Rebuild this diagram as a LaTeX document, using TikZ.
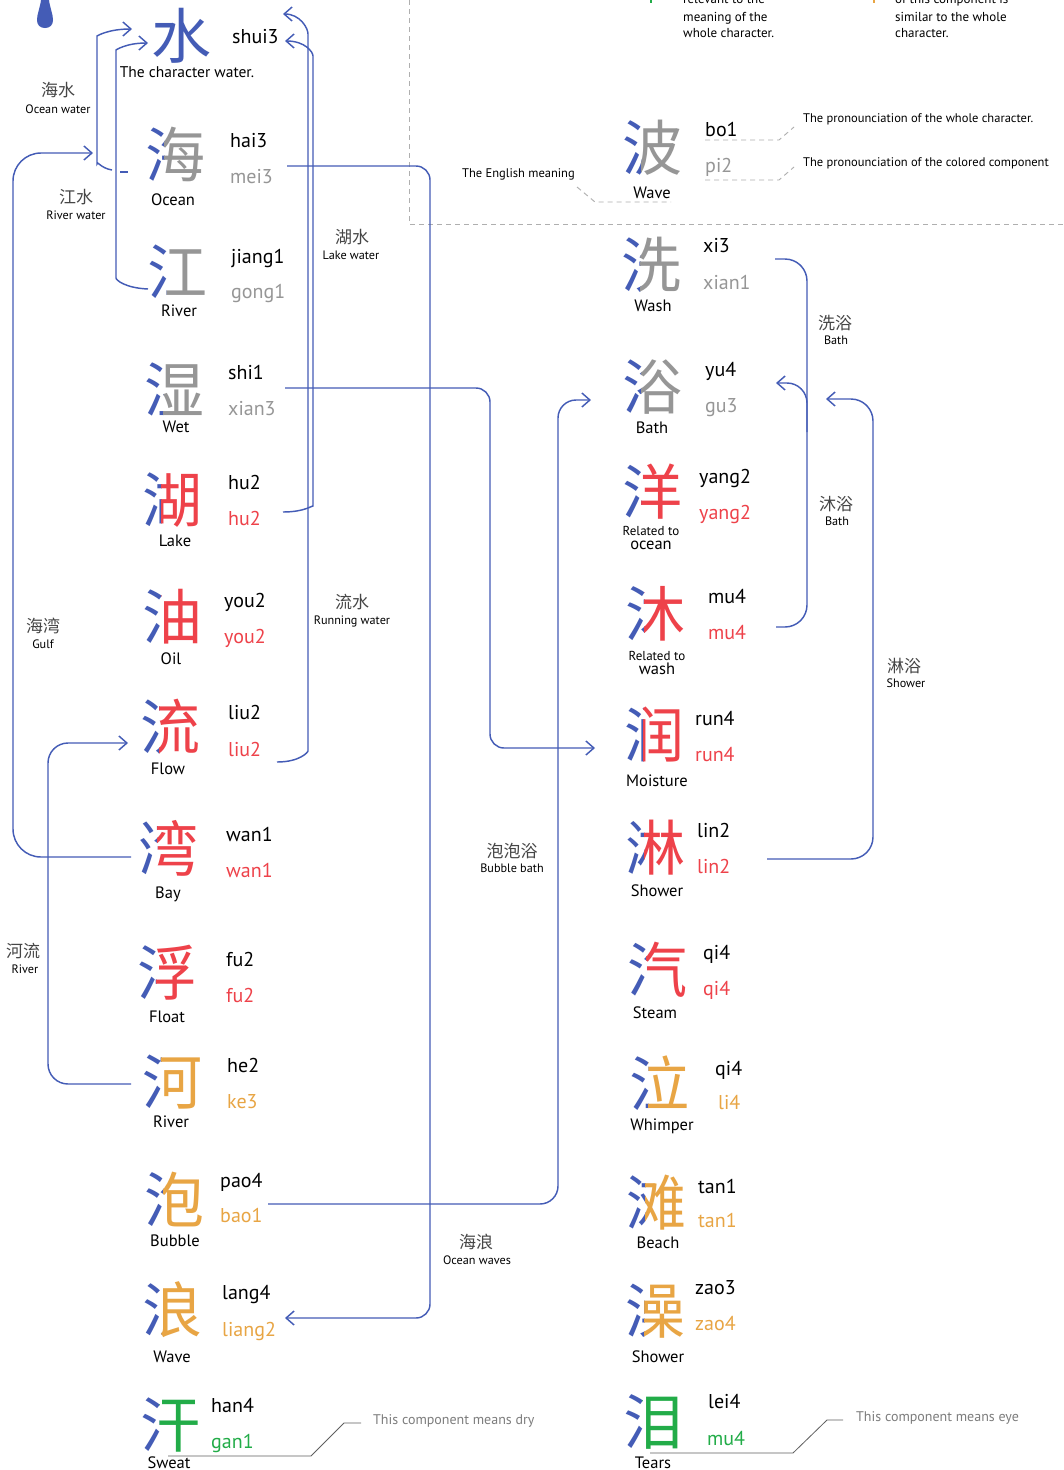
\documentclass[tikz,border=0pt]{standalone}
\usepackage{fontspec}
\setmainfont{PT Sans}
\newfontfamily\cjk{Noto Sans CJK SC}
\usetikzlibrary{arrows.meta}
\definecolor{wblue}{RGB}{68,92,182}
\definecolor{wred}{RGB}{238,66,74}
\definecolor{worange}{RGB}{232,165,68}
\definecolor{wgreen}{RGB}{34,172,72}
\definecolor{wgray}{RGB}{150,150,150}
\definecolor{zhgray}{RGB}{70,70,70}
\definecolor{dashgray}{RGB}{175,175,175}
\definecolor{notegray}{RGB}{125,125,125}
\definecolor{linegray}{RGB}{95,95,95}
\newcommand\hzc[5]{%
  \begin{scope}\clip (#2-45,#3-45) rectangle (#2-11,#3+45);
  \node[glyph,text=wblue] (#1L) at (#2,#3) {#4};\end{scope}
  \begin{scope}\clip (#2-11,#3-45) rectangle (#2+45,#3+45);
  \node[glyph,text=#5] (#1) at (#2,#3) {#4};\end{scope}}
\begin{document}
\begin{tikzpicture}[x=1pt,y=-1pt,
  glyph/.style={inner sep=0pt, font=\cjk\fontsize{60}{60}\selectfont},
  py/.style={anchor=base west, inner sep=0pt, font=\fontsize{20}{24}\selectfont},
  mean/.style={anchor=base, inner sep=0pt, font=\fontsize{16.5}{20}\selectfont},
  rel/.style={anchor=base, inner sep=0pt, font=\fontsize{13}{15}\selectfont},
  lzh/.style={inner sep=0pt, text=zhgray, font=\cjk\fontsize{17}{20}\selectfont},
  len/.style={inner sep=0pt, font=\fontsize{12.2}{14}\selectfont},
  conn/.style={draw=wblue, line width=1.45pt, rounded corners=16pt},
  tip/.style={-{Straight Barb[length=8pt,width=14pt]}},
  legdash/.style={draw=dashgray, line width=0.9pt, dash pattern=on 5pt off 4pt},
  note/.style={anchor=west, inner sep=0pt, text=notegray, font=\fontsize{14}{16}\selectfont},
  noteline/.style={draw=linegray, line width=0.8pt},
  legtxt/.style={anchor=base west, inner sep=0pt, font=\fontsize{13}{15}\selectfont},
  small/.style={anchor=west, inner sep=0pt, font=\fontsize{12.5}{14}\selectfont}
  ]
\useasboundingbox[fill=white] (0,0) rectangle (1064,1470);

% drop
\fill[wblue] (41,0) .. controls (40,8) and (37,14) .. (37,20) .. controls (37,25) and (40,28) .. (45,28) .. controls (50,28) and (53,25) .. (53,20) .. controls (53,14) and (50,8) .. (49,0) -- cycle;

% legend box
\draw[legdash] (409,0) -- (409,224) -- (1064,224);
\fill[wgreen] (649.5,0) rectangle (652,3);
\fill[worange] (872.5,0) rectangle (875,3);
\node[legtxt] (t1) at (683,3) {relevant to the};
\node[legtxt] (t2) at (683,21) {meaning of the};
\node[legtxt] (t3) at (683,37) {whole character.};
\node[legtxt] (t4) at (895,3) {of this component is};
\node[legtxt] (t5) at (895,21) {similar to the whole};
\node[legtxt] (t6) at (895,37) {character.};

\hzc{bo}{652}{148}{波}{wgray}
\node[py] (bo-a) at (705,136) {bo1};
\node[py,text=wgray] (bo-b) at (705,172) {pi2};
\node[mean] (bo-m) at (652,198) {Wave};
\draw[legdash] (705,140) -- (779,140) -- (794,127);
\draw[legdash] (705,180) -- (779,180) -- (794,167);
\draw[legdash] (577,187) -- (595,202) -- (671,202);
\node[small] (lg1) at (803,119) {The pronounciation of the whole character.};
\node[small] (lg2) at (803,163) {The pronounciation of the colored component};
\node[small] (lg3) at (462,174) {The English meaning};

% left column
\node[glyph,text=wblue] (shui) at (181,36) {水};
\node[py] (shui-a) at (232,43) {shui3};
\node[anchor=base,inner sep=0pt,font=\fontsize{15.5}{18}\selectfont] (shui-m) at (187,77) {The character water.};

\hzc{hai}{175}{154}{海}{wgray}
\node[py] (hai-a) at (230,147) {hai3};
\node[py,text=wgray] (hai-b) at (230,183) {mei3};
\node[mean] (hai-m) at (173,205) {Ocean};

\hzc{jiang}{177}{272}{江}{wgray}
\node[py] (jiang-a) at (231,263) {jiang1};
\node[py,text=wgray] (jiang-b) at (231,298) {gong1};
\node[mean] (jiang-m) at (179,316) {River};

\hzc{shi}{174}{389}{湿}{wgray}
\node[py] (shi-a) at (228,379) {shi1};
\node[py,text=wgray] (shi-b) at (228,415) {xian3};
\node[mean] (shi-m) at (176,432) {Wet};

\hzc{hu}{172}{500}{湖}{wred}
\node[py] (hu-a) at (228,489) {hu2};
\node[py,text=wred] (hu-b) at (228,525) {hu2};
\node[mean] (hu-m) at (175,546) {Lake};

\hzc{you}{172}{617}{油}{wred}
\node[py] (you-a) at (224,607) {you2};
\node[py,text=wred] (you-b) at (224,643) {you2};
\node[mean] (you-m) at (171,664) {Oil};

\hzc{liu}{170}{727}{流}{wred}
\node[py] (liu-a) at (228,719) {liu2};
\node[py,text=wred] (liu-b) at (228,756) {liu2};
\node[mean] (liu-m) at (168,774) {Flow};

\hzc{wan}{168}{848}{湾}{wred}
\node[py] (wan-a) at (226,841) {wan1};
\node[py,text=wred] (wan-b) at (226,877) {wan1};
\node[mean] (wan-m) at (168,898) {Bay};

\hzc{fu}{167}{973}{浮}{wred}
\node[py] (fu-a) at (226,966) {fu2};
\node[py,text=wred] (fu-b) at (226,1002) {fu2};
\node[mean] (fu-m) at (167,1022) {Float};

\hzc{he}{172}{1082}{河}{worange}
\node[py] (he-a) at (227,1072) {he2};
\node[py,text=worange] (he-b) at (227,1108) {ke3};
\node[mean] (he-m) at (171,1127) {River};

\hzc{pao}{174}{1199}{泡}{worange}
\node[py] (pao-a) at (220,1187) {pao4};
\node[py,text=worange] (pao-b) at (220,1222) {bao1};
\node[mean] (pao-m) at (175,1246) {Bubble};

\hzc{lang}{172}{1310}{浪}{worange}
\node[py] (lang-a) at (222,1299) {lang4};
\node[py,text=worange] (lang-b) at (222,1336) {liang2};
\node[mean] (lang-m) at (172,1362) {Wave};

\hzc{han}{170}{1425}{汗}{wgreen}
\node[py] (han-a) at (211,1412) {han4};
\node[py,text=wgreen] (han-b) at (211,1448) {gan1};
\node[mean] (han-m) at (169,1468) {Sweat};

% right column
\hzc{xi}{651}{265}{洗}{wgray}
\node[py] (xi-a) at (703,252) {xi3};
\node[py,text=wgray] (xi-b) at (703,289) {xian1};
\node[mean] (xi-m) at (653,311) {Wash};

\hzc{yu}{652}{387}{浴}{wgray}
\node[py] (yu-a) at (705,376) {yu4};
\node[py,text=wgray] (yu-b) at (705,412) {gu3};
\node[mean] (yu-m) at (652,433) {Bath};

\hzc{yang}{652}{492}{洋}{wred}
\node[py] (yang-a) at (699,483) {yang2};
\node[py,text=wred] (yang-b) at (699,519) {yang2};
\node[rel] (yang-r) at (651,535) {Related to};
\node[mean] (yang-m) at (651,549) {ocean};

\hzc{mu}{655}{614}{沐}{wred}
\node[py] (mu-a) at (708,603) {mu4};
\node[py,text=wred] (mu-b) at (708,639) {mu4};
\node[rel] (mu-r) at (657,660) {Related to};
\node[mean] (mu-m) at (657,674) {wash};

\hzc{run}{654}{735}{润}{wred}
\node[py] (run-a) at (695,725) {run4};
\node[py,text=wred] (run-b) at (695,761) {run4};
\node[mean] (run-m) at (657,786) {Moisture};

\hzc{lin}{655}{848}{淋}{wred}
\node[py] (lin-a) at (697,837) {lin2};
\node[py,text=wred] (lin-b) at (697,873) {lin2};
\node[mean] (lin-m) at (657,896) {Shower};

\hzc{qi}{657}{970}{汽}{wred}
\node[py] (qi-a) at (703,959) {qi4};
\node[py,text=wred] (qi-b) at (703,995) {qi4};
\node[mean] (qi-m) at (655,1018) {Steam};

\hzc{qii}{659}{1083}{泣}{worange}
\node[py] (qii-a) at (715,1075) {qi4};
\node[py,text=worange] (qii-b) at (718,1109) {li4};
\node[mean] (qii-m) at (662,1130) {Whimper};

\hzc{tan}{656}{1203}{滩}{worange}
\node[py] (tan-a) at (698,1193) {tan1};
\node[py,text=worange] (tan-b) at (698,1227) {tan1};
\node[mean] (tan-m) at (658,1248) {Beach};

\hzc{zao}{655}{1311}{澡}{worange}
\node[py] (zao-a) at (695,1294) {zao3};
\node[py,text=worange] (zao-b) at (695,1330) {zao4};
\node[mean] (zao-m) at (658,1362) {Shower};

\hzc{lei}{653}{1422}{泪}{wgreen}
\node[py] (lei-a) at (708,1408) {lei4};
\node[py,text=wgreen] (lei-b) at (707,1445) {mu4};
\node[mean] (lei-m) at (653,1468) {Tears};

% labels
\node[lzh] (z1) at (58,90) {海水};   \node[len] (e1) at (58,109) {Ocean water};
\node[lzh] (z2) at (76,197) {江水};  \node[len] (e2) at (76,215) {River water};
\node[lzh] (z3) at (352,237) {湖水}; \node[len] (e3) at (351,255) {Lake water};
\node[lzh] (z4) at (352,602) {流水}; \node[len] (e4) at (352,621) {Running water};
\node[lzh] (z5) at (43,626) {海湾};  \node[len] (e5) at (43,644) {Gulf};
\node[lzh] (z6) at (23,951) {河流};  \node[len] (e6) at (25,969) {River};
\node[lzh] (z7) at (512,851) {泡泡浴}; \node[len] (e7) at (512,868) {Bubble bath};
\node[lzh] (z8) at (476,1242) {海浪}; \node[len] (e8) at (477,1260) {Ocean waves};
\node[lzh] (z9) at (835,323) {洗浴}; \node[len] (e9) at (836,340) {Bath};
\node[lzh] (z10) at (836,504) {沐浴}; \node[len] (e10) at (837,521) {Bath};
\node[lzh] (z11) at (904,666) {淋浴}; \node[len] (e11) at (906,683) {Shower};

% notes
\node[note] (n1) at (373,1421) {This component means dry};
\node[note] (n2) at (856,1418) {This component means eye};
\draw[noteline] (168,1456) -- (311,1456) -- (344,1423) -- (361,1423);
\draw[noteline] (650,1453) -- (793,1453) -- (827,1420) -- (843,1420);

% connector end points
\coordinate (a1s) at (112,170); \coordinate (a1e) at (132,29);
\coordinate (a2s) at (148,289); \coordinate (a2e) at (148,43);
\coordinate (a3s) at (131,857); \coordinate (a3e) at (93,153);
\coordinate (a4s) at (131,1084); \coordinate (a4e) at (128,743);
\coordinate (a5s) at (283,512); \coordinate (a5e) at (285,41);
\coordinate (a6s) at (277,762); \coordinate (a6e) at (283,14);
\coordinate (a7s) at (287,166); \coordinate (a7e) at (285,1318);
\coordinate (a8s) at (285,388); \coordinate (a8e) at (595,748);
\coordinate (a9s) at (268,1204); \coordinate (a9e) at (591,400);
\coordinate (a10s) at (775,259); \coordinate (a10e) at (776,627);
\coordinate (a11s) at (807,432); \coordinate (a11e) at (776,383);
\coordinate (a12s) at (767,859); \coordinate (a12e) at (826,399);

% connectors
\draw[conn,tip] (a1s) .. controls (100,168) and (97,160) .. (97,148) -- (97,52) .. controls (97,36) and (108,29) .. (a1e);
\draw[conn] (120,172) -- (128,172);
\draw[conn,tip] (a2s) .. controls (125,288) and (116,280) .. (116,262) -- (116,66) .. controls (116,50) and (126,43) .. (a2e);
\draw[conn,tip,rounded corners=28pt] (a3s) -- (13,857) -- (13,153) -- (a3e);
\draw[conn,tip,rounded corners=20pt] (a4s) -- (48,1084) -- (48,743) -- (a4e);
\draw[conn,tip] (a5s) .. controls (305,512) and (313,505) .. (313,490) -- (313,72) .. controls (313,52) and (305,41) .. (a5e);
\draw[conn,tip] (a6s) .. controls (300,762) and (308,752) .. (308,735) -- (308,50) .. controls (308,28) and (300,14) .. (a6e);
\draw[conn,tip,rounded corners=14pt] (a7s) -- (430,166) -- (430,1318) -- (a7e);
\draw[conn,tip,rounded corners=14pt] (a8s) -- (490,388) -- (490,748) -- (a8e);
\draw[conn,tip,rounded corners=18pt] (a9s) -- (558,1204) -- (558,400) -- (a9e);
\draw[conn,rounded corners=22pt] (a10s) -- (807,259) -- (807,627) -- (a10e);
\draw[conn,tip,rounded corners=20pt] (a11s) -- (807,383) -- (a11e);
\draw[conn,tip,rounded corners=22pt] (a12s) -- (873,859) -- (873,399) -- (a12e);
\end{tikzpicture}
\end{document}
